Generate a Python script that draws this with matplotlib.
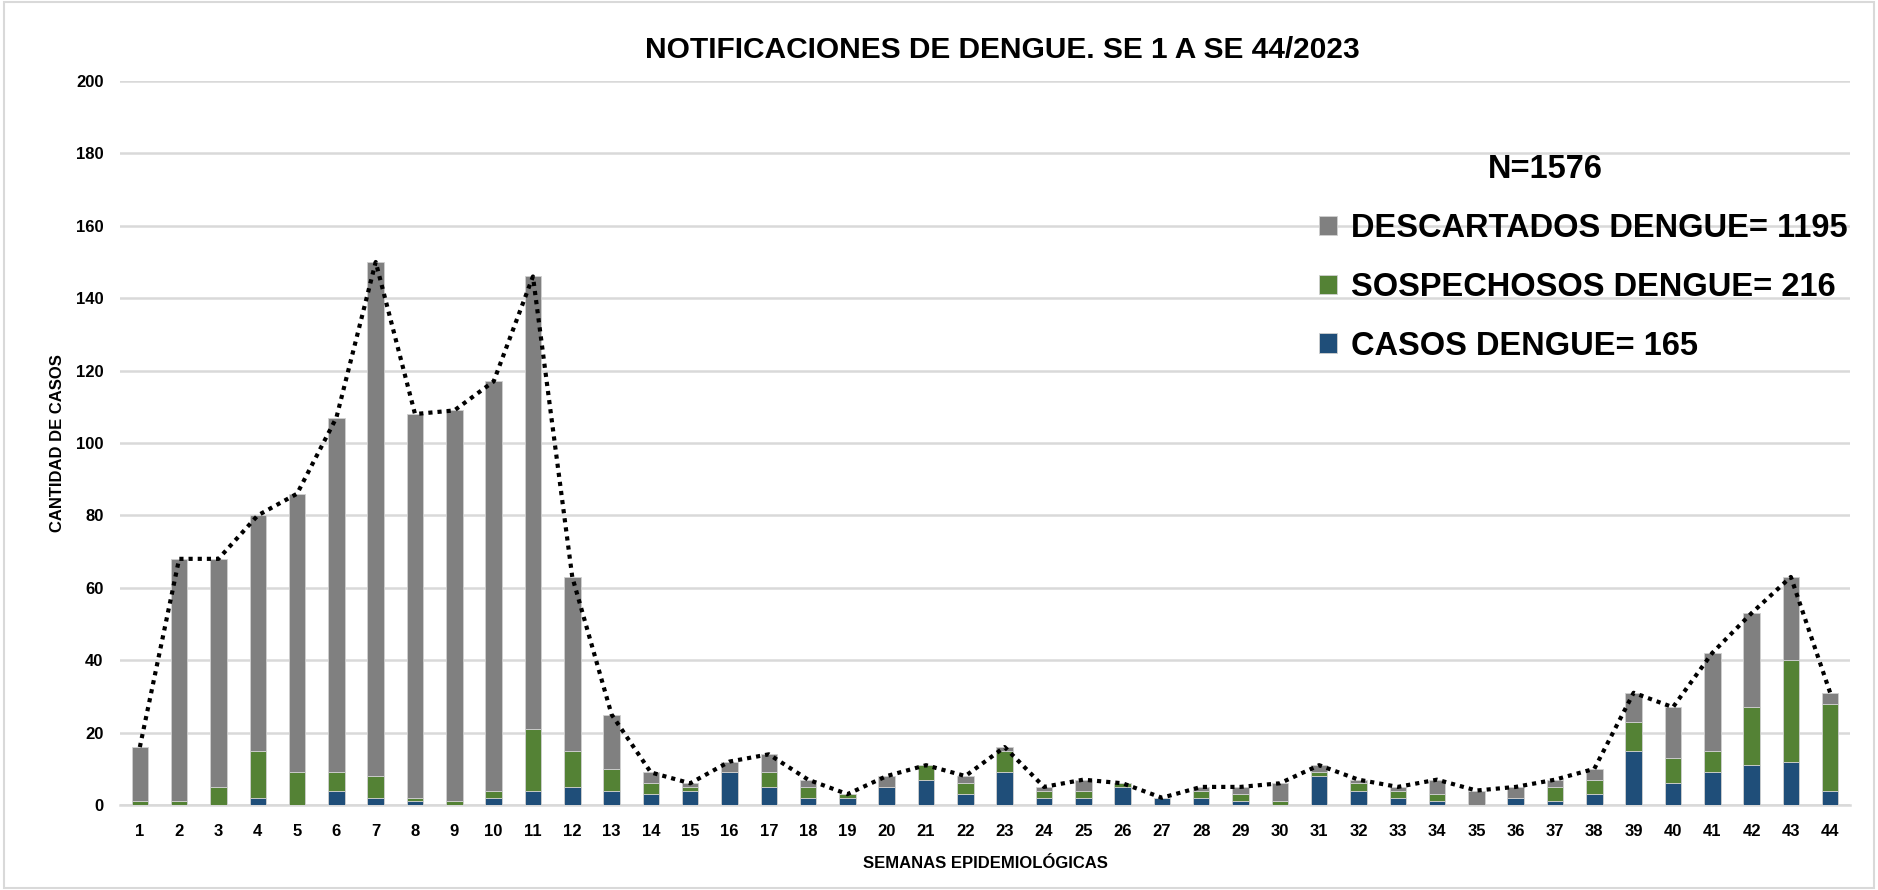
import matplotlib
matplotlib.use("Agg")
import matplotlib.pyplot as plt
from matplotlib.patches import Rectangle
import numpy as np

plt.rcParams['font.family'] = ['Liberation Sans', 'DejaVu Sans']

# datos por semana epidemiologica (SE 1 a 44)
semanas = list(range(1, 45))
casos = [0, 0, 0, 2, 0, 4, 2, 1, 0, 2, 4, 5, 4, 3, 4, 9, 5, 2, 2, 5, 7, 3,
         9, 2, 2, 5, 2, 2, 1, 0, 8, 4, 2, 1, 0, 2, 1, 3, 15, 6, 9, 11, 12, 4]
sospechosos = [1, 1, 5, 13, 9, 5, 6, 1, 1, 2, 17, 10, 6, 3, 1, 0, 4, 3, 1, 0, 4, 3,
               6, 2, 2, 1, 0, 2, 2, 1, 1, 2, 2, 2, 0, 0, 4, 4, 8, 7, 6, 16, 28, 24]
descartados = [15, 67, 63, 65, 77, 98, 142, 106, 108, 113, 125, 48, 15, 3, 1, 3, 5, 2, 0, 3, 0, 2,
               1, 1, 3, 0, 0, 1, 2, 5, 2, 1, 1, 4, 4, 3, 2, 3, 8, 14, 27, 26, 23, 3]

etiquetas = ["DESCARTADOS DENGUE= 1195", "SOSPECHOSOS DENGUE= 216", "CASOS DENGUE= 165"]
titulo = "NOTIFICACIONES DE DENGUE. SE 1 A SE 44/2023"
total_n = "N=1576"

c_casos = "#1f4e79"
c_sosp = "#548235"
c_desc = "#808080"

casos_a = np.array(casos)
sosp_a = np.array(sospechosos)
desc_a = np.array(descartados)
total = casos_a + sosp_a + desc_a

fig = plt.figure(figsize=(18.78, 8.90), dpi=100)
ax = fig.add_axes([0.064, 0.0955, 0.921, 0.8135])

w = 0.42
edge = dict(edgecolor="#d0d0d0", linewidth=0.6)
b1 = ax.bar(semanas, casos_a, w, color=c_casos, zorder=3, **edge)
b2 = ax.bar(semanas, sosp_a, w, bottom=casos_a, color=c_sosp, zorder=3, **edge)
b3 = ax.bar(semanas, desc_a, w, bottom=casos_a + sosp_a, color=c_desc, zorder=3, **edge)

ax.plot(semanas, total, color="black", linestyle=(0, (1, 1.2)), linewidth=3, zorder=4)

ax.set_xlim(0.5, 44.5)
ax.set_ylim(0, 200)
ax.set_yticks(range(0, 201, 20))
ax.set_xticks(semanas)
ax.tick_params(axis="both", length=0, labelsize=12)
for lbl in ax.get_xticklabels() + ax.get_yticklabels():
    lbl.set_fontweight("bold")
ax.tick_params(axis="y", pad=12)
ax.tick_params(axis="x", pad=14)

ax.grid(axis="y", color="#d9d9d9", linewidth=1.8, zorder=0)
ax.set_axisbelow(True)
for s in ["top", "right", "left"]:
    ax.spines[s].set_visible(False)
ax.spines["bottom"].set_color("#d9d9d9")
ax.spines["bottom"].set_linewidth(1.8)

ax.set_xlabel("SEMANAS EPIDEMIOLÓGICAS", fontsize=12, fontweight="bold", labelpad=12)
ax.set_ylabel("CANTIDAD DE CASOS", fontsize=12, fontweight="bold", labelpad=8)

fig.text(0.534, 0.944, titulo, ha="center", va="center", fontsize=21.5, fontweight="bold")
fig.text(0.8227, 0.809, total_n, ha="center", va="center", fontsize=23.5, fontweight="bold")

leg = ax.legend([b3, b2, b1], etiquetas, loc="upper left", bbox_to_anchor=(0.676, 0.858),
                frameon=False, fontsize=23.5, handlelength=0.55,
                handleheight=0.55, handletextpad=0.45, labelspacing=0.85)
for t in leg.get_texts():
    t.set_fontweight("bold")

fig.patches.append(Rectangle((0.002, 0.002), 0.996, 0.996, transform=fig.transFigure,
                             fill=False, edgecolor="#d9d9d9", linewidth=1.5))

fig.savefig("out.png", dpi=100)
